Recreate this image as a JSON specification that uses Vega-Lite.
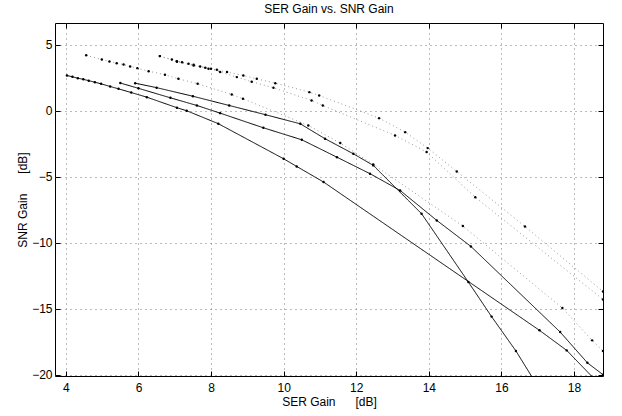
{
  "$schema": "https://vega.github.io/schema/vega-lite/v6.json",
  "width": 548,
  "height": 353,
  "autosize": {"type": "none"},
  "padding": {"left": 55, "top": 23, "right": 19, "bottom": 40},
  "background": "white",
  "title": {"text": "SER Gain vs. SNR Gain", "fontSize": 12, "fontWeight": "normal", "font": "Liberation Sans", "color": "black", "offset": 7},
  "config": {
    "view": {"stroke": "black", "strokeWidth": 1},
    "axis": {
      "labelFont": "Liberation Sans", "labelFontSize": 12, "labelColor": "black",
      "titleFont": "Liberation Sans", "titleFontSize": 12, "titleFontWeight": "normal", "titleColor": "black",
      "domain": false, "tickColor": "black", "tickSize": -5, "tickWidth": 1,
      "gridColor": "#777", "gridDash": [1, 4], "gridWidth": 1
    }
  },
  "data": {"values": [
    {"s": "A", "x": 4.03, "y": 2.67}, {"s": "A", "x": 4.18, "y": 2.57}, {"s": "A", "x": 4.33, "y": 2.47}, {"s": "A", "x": 4.48, "y": 2.38},
    {"s": "A", "x": 4.63, "y": 2.28}, {"s": "A", "x": 4.8, "y": 2.16}, {"s": "A", "x": 4.97, "y": 2.04}, {"s": "A", "x": 5.22, "y": 1.84},
    {"s": "A", "x": 5.45, "y": 1.66}, {"s": "A", "x": 5.8, "y": 1.38}, {"s": "A", "x": 6.23, "y": 1.03}, {"s": "A", "x": 7.06, "y": 0.23},
    {"s": "A", "x": 7.33, "y": 0.0}, {"s": "A", "x": 8.2, "y": -0.98}, {"s": "A", "x": 10.0, "y": -3.64}, {"s": "A", "x": 10.36, "y": -4.22},
    {"s": "A", "x": 11.1, "y": -5.4}, {"s": "A", "x": 17.05, "y": -16.64}, {"s": "A", "x": 17.8, "y": -18.16}, {"s": "A", "x": 18.5, "y": -20.15},
    {"s": "B", "x": 5.5, "y": 2.1}, {"s": "B", "x": 6.0, "y": 1.7}, {"s": "B", "x": 6.88, "y": 0.98}, {"s": "B", "x": 7.61, "y": 0.4},
    {"s": "B", "x": 8.25, "y": -0.18}, {"s": "B", "x": 9.44, "y": -1.29}, {"s": "B", "x": 10.5, "y": -2.2}, {"s": "B", "x": 11.47, "y": -3.52},
    {"s": "B", "x": 12.38, "y": -4.77}, {"s": "B", "x": 13.21, "y": -6.04}, {"s": "B", "x": 14.22, "y": -8.31}, {"s": "B", "x": 15.16, "y": -10.28},
    {"s": "B", "x": 17.62, "y": -16.77}, {"s": "B", "x": 18.37, "y": -19.1}, {"s": "B", "x": 18.8, "y": -20.0},
    {"s": "C", "x": 5.91, "y": 2.09}, {"s": "C", "x": 6.5, "y": 1.75}, {"s": "C", "x": 7.5, "y": 1.1}, {"s": "C", "x": 8.5, "y": 0.4},
    {"s": "C", "x": 9.5, "y": -0.3}, {"s": "C", "x": 10.46, "y": -0.99}, {"s": "C", "x": 11.14, "y": -2.12}, {"s": "C", "x": 11.92, "y": -3.26},
    {"s": "C", "x": 12.47, "y": -4.14}, {"s": "C", "x": 13.8, "y": -7.8}, {"s": "C", "x": 15.09, "y": -12.98}, {"s": "C", "x": 15.73, "y": -15.6},
    {"s": "C", "x": 16.4, "y": -18.2}, {"s": "C", "x": 16.85, "y": -20.2},
    {"s": "D1a", "x": 6.59, "y": 4.14}, {"s": "D1a", "x": 6.92, "y": 3.89}, {"s": "D1a", "x": 7.06, "y": 3.76}, {"s": "D1a", "x": 7.2, "y": 3.68},
    {"s": "D1a", "x": 7.38, "y": 3.56}, {"s": "D1a", "x": 7.52, "y": 3.48}, {"s": "D1a", "x": 7.7, "y": 3.36}, {"s": "D1a", "x": 7.84, "y": 3.26},
    {"s": "D1a", "x": 7.93, "y": 3.18}, {"s": "D1a", "x": 8.16, "y": 3.1}, {"s": "D1a", "x": 8.44, "y": 2.93}, {"s": "D1a", "x": 8.89, "y": 2.67},
    {"s": "D1a", "x": 9.26, "y": 2.42}, {"s": "D1a", "x": 9.77, "y": 2.09}, {"s": "D1a", "x": 10.71, "y": 1.41}, {"s": "D1a", "x": 10.98, "y": 1.16},
    {"s": "D1a", "x": 12.63, "y": -0.56}, {"s": "D1a", "x": 13.35, "y": -1.62}, {"s": "D1a", "x": 13.97, "y": -2.83}, {"s": "D1a", "x": 14.77, "y": -4.6},
    {"s": "D1a", "x": 16.65, "y": -8.77}, {"s": "D1a", "x": 18.8, "y": -13.7},
    {"s": "D1b", "x": 6.59, "y": 4.14}, {"s": "D1b", "x": 7.06, "y": 3.72}, {"s": "D1b", "x": 7.52, "y": 3.42}, {"s": "D1b", "x": 8.0, "y": 3.18},
    {"s": "D1b", "x": 8.25, "y": 2.93}, {"s": "D1b", "x": 8.71, "y": 2.55}, {"s": "D1b", "x": 9.12, "y": 2.2}, {"s": "D1b", "x": 9.72, "y": 1.74},
    {"s": "D1b", "x": 10.77, "y": 0.78}, {"s": "D1b", "x": 11.08, "y": 0.4}, {"s": "D1b", "x": 13.07, "y": -1.87}, {"s": "D1b", "x": 13.94, "y": -3.13},
    {"s": "D1b", "x": 15.28, "y": -6.55}, {"s": "D1b", "x": 18.8, "y": -14.3},
    {"s": "D2", "x": 4.56, "y": 4.2}, {"s": "D2", "x": 4.99, "y": 3.89}, {"s": "D2", "x": 5.2, "y": 3.73}, {"s": "D2", "x": 5.4, "y": 3.6},
    {"s": "D2", "x": 5.59, "y": 3.5}, {"s": "D2", "x": 5.77, "y": 3.36}, {"s": "D2", "x": 5.97, "y": 3.23}, {"s": "D2", "x": 6.28, "y": 3.0},
    {"s": "D2", "x": 6.73, "y": 2.73}, {"s": "D2", "x": 7.1, "y": 2.42}, {"s": "D2", "x": 7.63, "y": 2.05}, {"s": "D2", "x": 8.57, "y": 1.23},
    {"s": "D2", "x": 8.88, "y": 0.91}, {"s": "D2", "x": 10.68, "y": -1.11}, {"s": "D2", "x": 11.56, "y": -2.45}, {"s": "D2", "x": 12.47, "y": -4.07},
    {"s": "D2", "x": 14.94, "y": -8.74}, {"s": "D2", "x": 17.68, "y": -14.95}, {"s": "D2", "x": 18.5, "y": -17.4}, {"s": "D2", "x": 18.8, "y": -18.2}
  ]},
  "encoding": {
    "x": {"field": "x", "type": "quantitative", "scale": {"domain": [3.7, 18.8], "nice": false, "zero": false}},
    "y": {"field": "y", "type": "quantitative", "scale": {"domain": [-20.1, 6.65], "nice": false, "zero": false}}
  },
  "layer": [
    {
      "mark": {"type": "line", "clip": true, "strokeWidth": 1},
      "encoding": {
        "x": {"field": "x", "type": "quantitative", "axis": {"values": [4, 6, 8, 10, 12, 14, 16, 18], "title": "SER Gain\u00a0\u00a0\u00a0\u00a0\u00a0\u00a0[dB]", "labelPadding": 11, "titlePadding": 3}},
        "y": {"field": "y", "type": "quantitative", "axis": {"values": [-20, -15, -10, -5, 0, 5], "title": "SNR Gain\u00a0\u00a0\u00a0\u00a0\u00a0\u00a0[dB]", "labelPadding": 8, "titlePadding": 2}},
        "color": {"field": "s", "type": "nominal", "legend": null, "scale": {"domain": ["A", "B", "C", "D1a", "D1b", "D2"], "range": ["black", "black", "black", "#999999", "#999999", "#999999"]}},
        "strokeDash": {"field": "s", "type": "nominal", "legend": null, "scale": {"domain": ["A", "B", "C", "D1a", "D1b", "D2"], "range": [[1, 0], [1, 0], [1, 0], [1, 3], [1, 3], [1, 3]]}}
      }
    },
    {
      "mark": {"type": "point", "filled": true, "clip": true, "size": 6, "color": "black", "opacity": 1},
      "encoding": {
        "x": {"field": "x", "type": "quantitative", "axis": {"orient": "top", "values": [4, 6, 8, 10, 12, 14, 16, 18], "labels": false, "title": null, "grid": false}},
        "y": {"field": "y", "type": "quantitative", "axis": {"orient": "right", "values": [-20, -15, -10, -5, 0, 5], "labels": false, "title": null, "grid": false}}
      }
    }
  ],
  "resolve": {"axis": {"x": "independent", "y": "independent"}}
}
